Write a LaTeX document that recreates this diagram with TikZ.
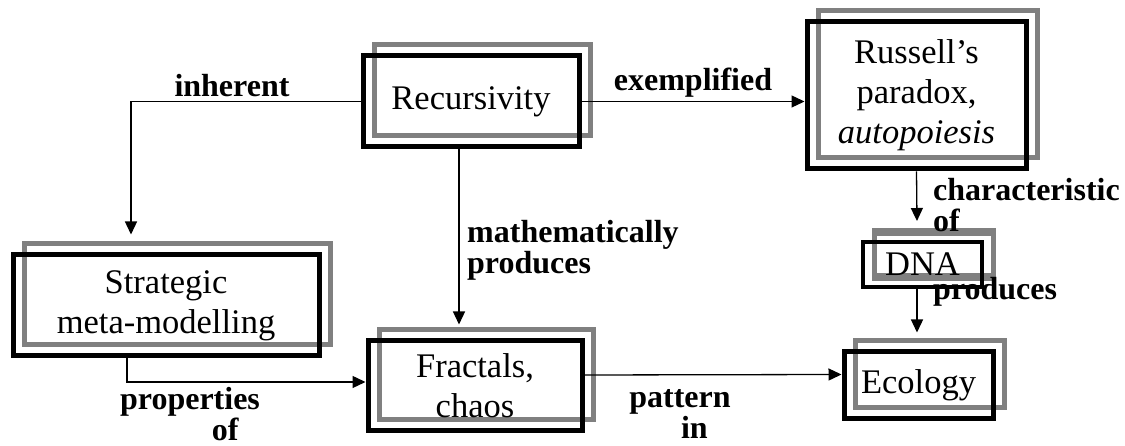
\documentclass[tikz,border=0pt]{standalone}
\usepackage{fontspec}
\setmainfont{Liberation Serif}
\usetikzlibrary{arrows.meta,shadows}
\begin{document}
\begin{tikzpicture}[x=1pt, y=1pt, line join=miter,
    box/.style={draw, line width=5pt, inner sep=0pt, align=center,
      font=\fontsize{34.5}{40}\selectfont,
      copy shadow={shadow xshift=11pt, shadow yshift=11pt, draw=gray, fill=none, line width=5pt}},
    lbl/.style={inner sep=0pt, font=\fontsize{32}{31}\selectfont\bfseries},
    lowlbl/.style={lbl, align=center, font=\fontsize{32}{27}\selectfont\bfseries},
    arr/.style={-{Triangle[length=13pt,width=12pt]}, line width=1.3pt}]
  \useasboundingbox (0,0) rectangle (1125,446);
  % boxes
  \node[box, minimum width=216pt, minimum height=91pt] (rec) at (471,344.5) {Recursivity};
  \node[box, minimum width=219pt, minimum height=147pt] (rus) at (916.5,350.5) {Russell’s\\paradox,\\\textit{autopoiesis}};
  \node[box, minimum width=306pt, minimum height=101pt] (strat) at (166,140.5) {Strategic\\meta-modelling};
  \node[box, minimum width=214pt, minimum height=90pt] (frac) at (475,60) {Fractals,\\chaos};
  \node[box, line width=4pt, minimum width=119pt, minimum height=45pt,
    copy shadow={shadow xshift=11pt, shadow yshift=8pt, draw=gray, fill=none, line width=4pt}] (dna) at (922.5,181.5) {DNA};
  \node[box, minimum width=149pt, minimum height=67pt] (eco) at (918.5,60.5) {Ecology};
  % connectors
  \draw[arr] (rec.west) -| ([xshift=-35pt,yshift=18pt]strat.north);
  \draw[arr] (rec.east) -- (rec.east -| rus.west);
  \draw[arr] ([xshift=-12pt]rec.south) -- ([xshift=-16pt,yshift=14pt]frac.north);
  \draw[arr] (rus.south) -- ([xshift=-5.5pt,yshift=19pt]dna.north);
  \draw[arr] ([xshift=-5.5pt]dna.south) -- ([xshift=-1.5pt,yshift=17pt]eco.north);
  \draw[arr] ([xshift=-39pt]strat.south) |- ([yshift=4pt]frac.west);
  \draw[arr] ([yshift=11pt]frac.east) -- ([yshift=11pt]eco.west);
  % labels
  \node[lbl] (inh) at (232,360) {inherent};
  \node[lbl] (exm) at (693,363) {exemplified};
  \node[lbl, anchor=west, align=left] (math) at (467,196) {mathematically\\produces};
  \node[lbl, anchor=west, align=left] (char) at (933,241) {characteristic\\of};
  \node[lbl, anchor=west] (prod) at (933,154) {produces};
  \node[lowlbl] (prop) at (190,32) {properties\\\hspace*{2.2em}of};
  \node[lowlbl] (patt) at (680,32) {pattern\\\hspace*{0.9em}in};
\end{tikzpicture}
\end{document}
